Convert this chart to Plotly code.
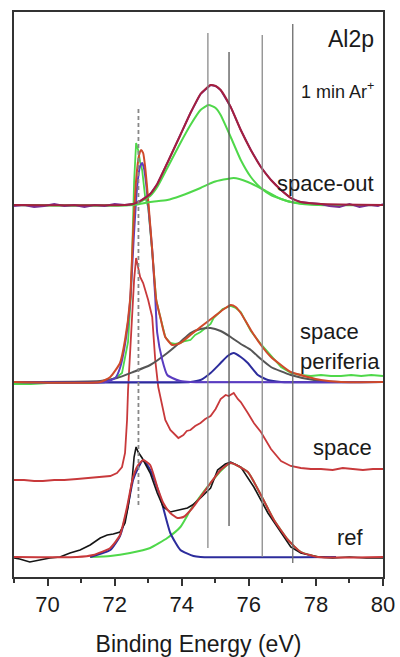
import plotly.graph_objects as go

# ---------------- Al2p spectra (binding energy in eV, intensity in a.u.) ----------------
# Vertical offsets of the stacked spectra
OFF_SPACE_OUT = 372
OFF_PERIFERIA = 195
OFF_SPACE = 108
OFF_REF = 20

# --- space-out ---
so_meas_e = [69.0, 69.3, 69.6, 69.9, 70.2, 70.5, 70.8, 71.1, 71.4, 71.7, 72.0, 72.3, 72.55,
             72.76, 73.06, 73.27, 73.57, 73.96, 74.26, 74.56, 74.71, 74.86, 75.01, 75.16,
             75.46, 75.76, 76.06, 76.36, 76.66, 76.96, 77.25, 77.55, 77.8, 78.15, 78.4,
             78.7, 79.0, 79.3, 79.6, 79.85, 80.0]
so_meas_i = [-1, 0, -2, -1, 1, -1, 0, -2, 0, -1, 1, 0, 1,
             4, 11, 21, 42, 70, 92, 111, 116, 120, 119, 115,
             98, 75, 55, 38, 25, 15, 7, 3, 2, 1, -1,
             -2, 1, -2, 0, -1, 1]
so_env_e = [69.0, 72.3, 72.55, 72.76, 73.06, 73.27, 73.57, 73.96, 74.26, 74.56, 74.71,
            74.86, 75.01, 75.16, 75.46, 75.76, 76.06, 76.36, 76.66, 76.96, 77.25, 77.55,
            78.15, 80.0]
so_env_i = [0, 0, 1, 4, 11, 21, 42, 70, 92, 111, 116,
            120, 119, 115, 98, 75, 55, 38, 25, 15, 7, 3,
            1, 0]
so_g1_e = [69.0, 72.4, 72.76, 73.06, 73.27, 73.57, 73.96, 74.26, 74.56, 74.8, 75.01,
           75.16, 75.46, 75.76, 76.06, 76.36, 76.66, 77.25, 77.85, 78.45, 80.0]
so_g1_i = [0, 0, 3, 9, 18, 37, 62, 80, 95, 100, 97,
           90, 68, 45, 28, 17, 10, 3, 1, 0, 0]
so_g2_e = [69.0, 72.55, 73.06, 73.57, 73.96, 74.56, 74.95, 75.55, 75.97, 76.45, 76.96,
           77.4, 78.06, 80.0]
so_g2_i = [0, 0, 3, 5, 9, 17, 23, 27, 23, 15, 6,
           2, 0, 0]

# --- space periferia ---
pe_meas_e = [69.0, 69.5, 70.0, 70.5, 71.0, 71.57, 71.87, 72.07, 72.22, 72.4, 72.49, 72.52,
             72.58, 72.64, 72.7, 72.76, 72.82, 72.91, 73.0, 73.12, 73.24, 73.36, 73.51,
             73.66, 73.8, 73.96, 74.1, 74.26, 74.4, 74.56, 74.7, 74.86, 74.95, 75.22,
             75.46, 75.61, 75.76, 76.06, 76.36, 76.66, 76.96, 77.25, 77.55, 77.85, 78.15,
             78.45, 78.75, 79.05, 79.35, 79.65, 80.0]
pe_meas_i = [-2, -2, -1, -1, 0, 0, 2, 5, 9, 40, 90, 122,
             200, 239, 232, 220, 212, 185, 175, 130, 82, 65, 45,
             39, 38, 39, 41, 42, 47, 50, 54, 58, 64, 73,
             76, 74, 70, 51, 38, 26, 15, 9, 7, 6, 7,
             6, 6, 7, 6, 7, 6]
pe_env_e = [69.0, 71.57, 71.87, 72.16, 72.31, 72.46, 72.55, 72.64, 72.73, 72.79, 72.85,
            72.91, 73.0, 73.12, 73.24, 73.36, 73.51, 73.72, 73.96, 74.26, 74.56, 74.95,
            75.22, 75.46, 75.61, 75.76, 76.06, 76.36, 76.66, 76.96, 77.25, 77.76, 78.15,
            78.75, 80.0]
pe_env_i = [0, 0, 5, 19, 42, 82, 149, 202, 227, 232, 229,
            215, 182, 132, 82, 65, 45, 37, 39, 47, 55, 65,
            72, 77, 75, 69, 52, 37, 25, 17, 10, 5, 2,
            0, 0]
pe_gray_e = [69.0, 71.57, 72.07, 72.55, 73.06, 73.57, 73.96, 74.26, 74.56, 74.86, 75.16,
             75.46, 75.76, 76.06, 76.36, 76.66, 77.25, 77.94, 78.75, 80.0]
pe_gray_i = [0, 1, 4, 10, 17, 29, 40, 49, 53, 54, 51,
             45, 38, 32, 23, 15, 7, 2, 0, 0]
pe_blue_metal_e = [69.0, 71.72, 72.02, 72.16, 72.31, 72.46, 72.58, 72.67, 72.76, 72.82,
                   72.88, 72.94, 73.0, 73.12, 73.21, 73.27, 73.42, 73.57, 73.72, 73.96,
                   74.26, 80.0]
pe_blue_metal_i = [0, 0, 4, 14, 38, 80, 150, 195, 216, 219,
                   213, 198, 177, 132, 85, 49, 22, 7, 4, 1,
                   0, 0]
pe_blue_ox_e = [69.0, 74.26, 74.56, 74.86, 75.16, 75.37, 75.55, 75.76, 75.97, 76.27, 76.57,
                76.96, 80.0]
pe_blue_ox_i = [0, 0, 2, 9, 19, 26, 29, 25, 19, 7, 2,
                0, 0]

# --- space ---
sp_e = [69.0, 69.3, 69.6, 69.86, 70.2, 70.5, 70.88, 71.2, 71.5, 71.87, 72.07, 72.22,
        72.31, 72.37, 72.4, 72.49, 72.58, 72.64, 72.7, 72.76, 72.85, 73.0, 73.12, 73.21,
        73.3, 73.36, 73.45, 73.51, 73.66, 73.75, 73.9, 74.05, 74.15, 74.26, 74.4,
        74.56, 74.7, 74.86, 75.01, 75.16, 75.31, 75.4, 75.48, 75.55, 75.67, 75.76,
        75.97, 76.15, 76.36, 76.66, 76.96, 77.25, 77.55, 77.85, 78.15, 78.5, 78.8,
        79.1, 79.4, 79.7, 80.0]
sp_i = [-11, -11, -12, -12, -11, -11, -10, -9, -8, -7, -4, 2,
        16, 49, 79, 139, 189, 211, 203, 192, 186, 169, 152, 109,
        82, 72, 59, 49, 39, 36, 31, 34, 38, 39, 43,
        46, 50, 53, 60, 70, 74, 73, 75, 76, 70, 67,
        56, 46, 37, 20, 8, 3, 1, 0, 0, -1, 1,
        0, -1, 0, 0]

# --- ref ---
ref_meas_e = [69.0, 69.17, 69.47, 69.77, 70.07, 70.37, 70.67, 70.97, 71.27, 71.57, 71.78,
              71.96, 72.16, 72.31, 72.4, 72.52, 72.58, 72.64, 72.7, 72.82, 73.06, 73.27,
              73.45, 73.66, 73.96, 74.17, 74.32, 74.56, 74.86, 75.07, 75.3, 75.46, 75.76,
              76.15, 76.57, 76.96, 77.25, 77.55, 78.06, 78.5, 79.0, 79.5, 80.0]
ref_meas_i = [-1, -2, -5, -3, -1, 0, 4, 7, 12, 19, 22,
              23, 25, 34, 50, 77, 100, 110, 105, 99, 84, 64,
              50, 45, 47, 49, 52, 59, 69, 87, 93, 95, 90,
              70, 44, 24, 10, 4, 0, -1, 0, -1, -1]
ref_fit_e = [69.0, 70.88, 71.36, 71.87, 72.16, 72.37, 72.55, 72.7, 72.85, 73.06, 73.27,
             73.45, 73.66, 73.87, 74.05, 74.32, 74.56, 74.86, 75.16, 75.46, 75.97, 76.36,
             76.75, 77.17, 77.55, 78.06, 80.0]
ref_fit_i = [0, 0, 2, 9, 22, 50, 80, 92, 97, 92, 70,
             54, 44, 39, 40, 49, 60, 74, 87, 94, 85, 62,
             37, 17, 5, 0, 0]
ref_blue_e = [71.27, 71.87, 72.16, 72.37, 72.55, 72.7, 72.85, 73.06, 73.36, 73.66, 73.96,
              74.35, 74.56, 78.6]
ref_blue_i = [0, 7, 21, 47, 77, 89, 97, 87, 60, 24, 7,
              1, 0, 0]
ref_green_e = [71.27, 71.87, 72.46, 73.06, 73.57, 73.96, 74.26, 74.47, 74.86, 75.16, 75.46,
               75.97, 76.36, 76.75, 77.17, 77.55, 78.06]
ref_green_i = [0, 1, 4, 9, 19, 30, 47, 57, 74, 86, 94,
               85, 62, 37, 17, 5, 0]

# Reference energies (eV) marked with vertical lines
ref_lines_e = [74.78, 75.41, 76.40, 77.31]
metal_line_e = 72.71

# ---------------- styling ----------------
C_MAROON = "#a3203f"
C_RED = "#c8393b"
C_ORANGE_RED = "#cf4a2a"
C_GREEN = "#4fd84a"
C_BLUE = "#2c2c9c"
C_VIOLET = "#5a3cc0"
C_PURPLE = "#7a2f95"
C_GRAY = "#555555"
C_BLACK = "#151515"

fig = go.Figure()


def add(x, y, off, color, width=2.0, smooth=True):
    fig.add_trace(go.Scatter(
        x=x, y=[v + off for v in y], mode="lines",
        line=dict(color=color, width=width, shape="spline" if smooth else "linear",
                  smoothing=0.5),
        hoverinfo="skip", showlegend=False))


# ref
add(ref_green_e, ref_green_i, OFF_REF, C_GREEN)
add(ref_blue_e, ref_blue_i, OFF_REF, C_BLUE)
add(ref_meas_e, ref_meas_i, OFF_REF, C_BLACK, 1.6, smooth=False)
add(ref_fit_e, ref_fit_i, OFF_REF, C_RED)

# space
add(sp_e, sp_i, OFF_SPACE, C_RED, 1.8, smooth=False)

# space periferia
add([69.0, 80.0], [0, 0], OFF_PERIFERIA, "#6a4cd0", 1.6, smooth=False)
add(pe_meas_e, pe_meas_i, OFF_PERIFERIA, C_GREEN, 1.8, smooth=False)
add(pe_gray_e, pe_gray_i, OFF_PERIFERIA, C_GRAY)
add(pe_blue_ox_e, pe_blue_ox_i, OFF_PERIFERIA, C_BLUE)
add(pe_blue_metal_e, pe_blue_metal_i, OFF_PERIFERIA, C_VIOLET)
add(pe_env_e, pe_env_i, OFF_PERIFERIA, C_ORANGE_RED)

# space-out
add(so_g2_e, so_g2_i, OFF_SPACE_OUT, C_GREEN)
add(so_g1_e, so_g1_i, OFF_SPACE_OUT, C_GREEN)
add(so_meas_e, so_meas_i, OFF_SPACE_OUT, C_PURPLE, 1.8, smooth=False)
add(so_env_e, so_env_i, OFF_SPACE_OUT, C_MAROON)

# vertical reference lines (y extents in intensity units)
line_spans = [(29, 544), (51, 525), (20, 542), (14, 553)]
line_colors = ["#8a8a8a", "#555555", "#8a8a8a", "#6a6a6a"]
for e, (y0, y1), c in zip(ref_lines_e, line_spans, line_colors):
    fig.add_shape(type="line", x0=e, x1=e, y0=y0, y1=y1, xref="x", yref="y",
                  line=dict(color=c, width=1.3))
fig.add_shape(type="line", x0=metal_line_e, x1=metal_line_e, y0=72, y1=471,
              xref="x", yref="y", line=dict(color="#888888", width=1.8, dash="4px,3px"))

FONT = "Liberation Sans, Arial, sans-serif"
labels = [
    ("Al2p", 79.78, 538, "right", 23),
    ("1 min Ar<sup>+</sup>", 79.78, 487, "right", 18),
    ("space-out", 79.8, 394, "right", 22),
    ("space", 77.46, 246, "left", 22),
    ("periferia", 77.46, 216, "left", 22),
    ("space", 79.74, 130, "right", 22),
    ("ref", 79.5, 40, "right", 22),
]
for text, x, y, anchor, size in labels:
    fig.add_annotation(x=x, y=y, text=text, showarrow=False, xanchor=anchor,
                       yanchor="middle", align=anchor,
                       font=dict(family=FONT, size=size, color="#1a1a1a"))

fig.update_layout(
    width=400, height=657,
    margin=dict(l=14, r=17, t=12, b=80),
    paper_bgcolor="white", plot_bgcolor="white",
    font=dict(family=FONT, color="#1a1a1a"),
    xaxis=dict(range=[69, 80], showgrid=False, zeroline=False, automargin=False,
               showline=True, mirror=True, linecolor="#333333", linewidth=1.5,
               ticks="outside", ticklen=7, tickwidth=1.5, tickcolor="#333333",
               dtick=2, tick0=70, tickfont=dict(size=22),
               minor=dict(ticks="outside", ticklen=4, tickwidth=1.5,
                          tickcolor="#333333", dtick=1, tick0=69),
               title=dict(text="Binding Energy (eV)", font=dict(size=23), standoff=24)),
    yaxis=dict(range=[0, 565], showgrid=False, zeroline=False, showticklabels=False,
               showline=True, mirror=True, linecolor="#333333", linewidth=1.5,
               ticks="", automargin=False),
)

fig.write_html("out.html")
